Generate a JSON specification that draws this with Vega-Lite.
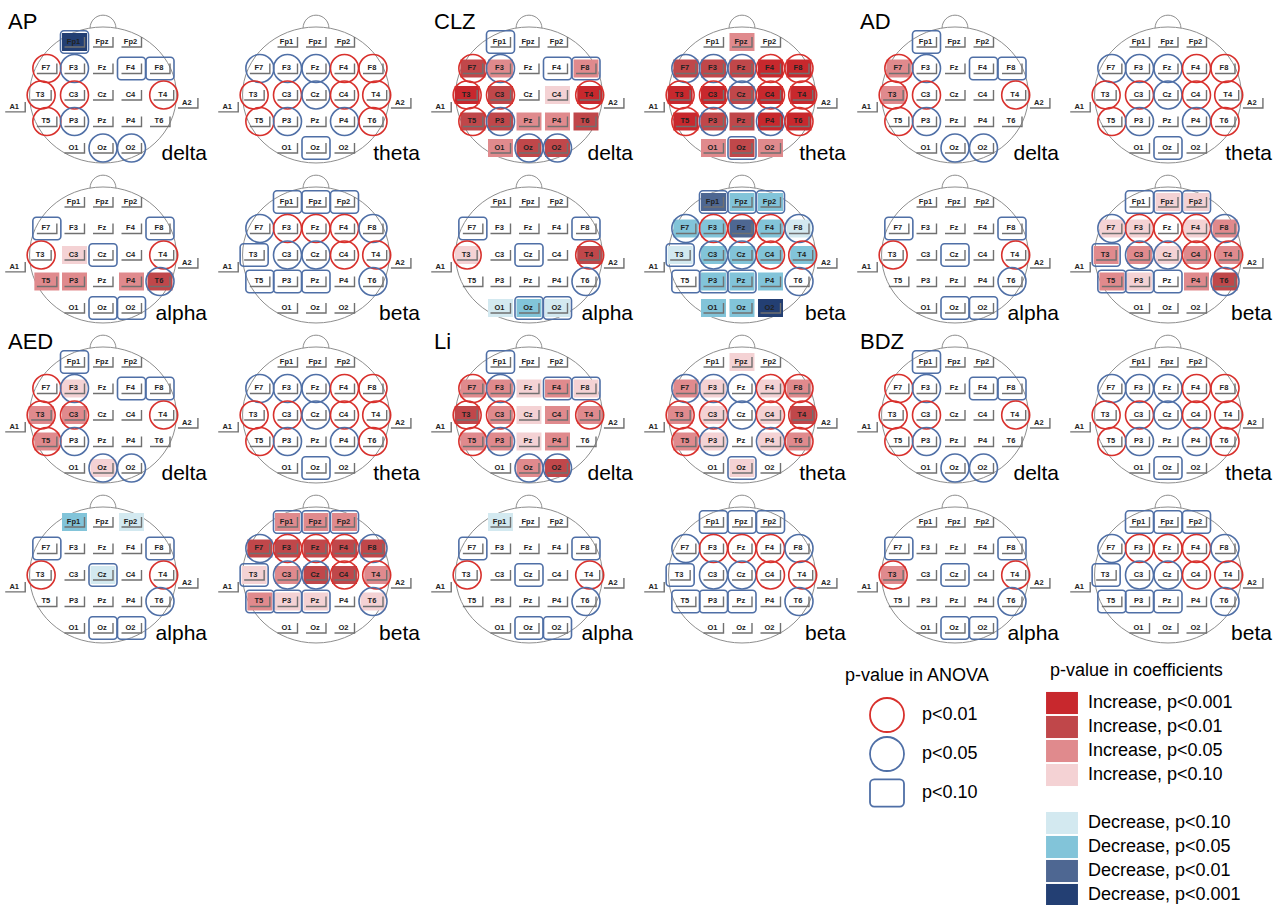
{
  "$schema": "https://vega.github.io/schema/vega-lite/v6.json",
  "padding": 0,
  "background": "white",
  "bounds": "flush",
  "datasets": {
    "montage": [
      {"e": "Fp1", "gx": -1, "gy": -2}, {"e": "Fpz", "gx": 0, "gy": -2}, {"e": "Fp2", "gx": 1, "gy": -2},
      {"e": "F7", "gx": -1.97, "gy": -1}, {"e": "F3", "gx": -1, "gy": -1}, {"e": "Fz", "gx": 0, "gy": -1}, {"e": "F4", "gx": 1, "gy": -1}, {"e": "F8", "gx": 2, "gy": -1},
      {"e": "A1", "gx": -3.08, "gy": 0.45}, {"e": "T3", "gx": -2.17, "gy": 0}, {"e": "C3", "gx": -1, "gy": 0}, {"e": "Cz", "gx": 0, "gy": 0}, {"e": "C4", "gx": 1, "gy": 0}, {"e": "T4", "gx": 2.13, "gy": 0}, {"e": "A2", "gx": 2.98, "gy": 0.3},
      {"e": "T5", "gx": -1.97, "gy": 1}, {"e": "P3", "gx": -1, "gy": 1}, {"e": "Pz", "gx": 0, "gy": 1}, {"e": "P4", "gx": 1, "gy": 1}, {"e": "T6", "gx": 2, "gy": 1},
      {"e": "O1", "gx": -1, "gy": 2}, {"e": "Oz", "gx": 0, "gy": 2}, {"e": "O2", "gx": 1, "gy": 2}
    ],
    "panels": [
      {"rg": "set1 delta-theta", "cg": "AP-AED slow", "drug": "AP", "band": "delta",
       "e": ["Fp1","Fpz","Fp2","F7","F3","Fz","F4","F8","A1","T3","C3","Cz","C4","T4","A2","T5","P3","Pz","P4","T6","O1","Oz","O2"],
       "a": ["q","","","r","b","","q","q","","r","r","","","r","","r","b","","","","","b","b"],
       "c": ["D3","","","","","","","","","","","","","","","","","","","","","",""]},
      {"rg": "set1 delta-theta", "cg": "AP-AED fast", "drug": "AP", "band": "theta",
       "e": ["Fp1","Fpz","Fp2","F7","F3","Fz","F4","F8","A1","T3","C3","Cz","C4","T4","A2","T5","P3","Pz","P4","T6","O1","Oz","O2"],
       "a": ["","","","b","b","b","r","r","","r","r","b","r","r","","r","b","","b","r","","q",""],
       "c": ["","","","","","","","","","","","","","","","","","","","","","",""]},
      {"rg": "set1 alpha-beta", "cg": "AP-AED slow", "drug": "AP", "band": "alpha",
       "e": ["Fp1","Fpz","Fp2","F7","F3","Fz","F4","F8","A1","T3","C3","Cz","C4","T4","A2","T5","P3","Pz","P4","T6","O1","Oz","O2"],
       "a": ["","","","q","","","","q","","r","","q","","r","","","","","","b","","q","q"],
       "c": ["","","","","","","","","","","I0","","","","","I1","I1","","I1","I2","","",""]},
      {"rg": "set1 alpha-beta", "cg": "AP-AED fast", "drug": "AP", "band": "beta",
       "e": ["Fp1","Fpz","Fp2","F7","F3","Fz","F4","F8","A1","T3","C3","Cz","C4","T4","A2","T5","P3","Pz","P4","T6","O1","Oz","O2"],
       "a": ["q","q","q","b","r","r","r","b","","q","b","b","r","r","","q","q","q","","b","","",""],
       "c": ["","","","","","","","","","","","","","","","","","","","","","",""]},
      {"rg": "set1 delta-theta", "cg": "CLZ-Li slow", "drug": "CLZ", "band": "delta",
       "e": ["Fp1","Fpz","Fp2","F7","F3","Fz","F4","F8","A1","T3","C3","Cz","C4","T4","A2","T5","P3","Pz","P4","T6","O1","Oz","O2"],
       "a": ["q","","","r","b","","q","q","","r","r","","","r","","r","b","","","","","b","b"],
       "c": ["","","","I2","I1","","","I1","","I3","I2","","I0","I3","","I2","I2","I1","I1","I2","I1","I2","I2"]},
      {"rg": "set1 delta-theta", "cg": "CLZ-Li fast", "drug": "CLZ", "band": "theta",
       "e": ["Fp1","Fpz","Fp2","F7","F3","Fz","F4","F8","A1","T3","C3","Cz","C4","T4","A2","T5","P3","Pz","P4","T6","O1","Oz","O2"],
       "a": ["","","","b","b","b","r","r","","r","r","b","r","r","","r","b","","b","r","","q",""],
       "c": ["","I1","","I2","I2","I2","I3","I3","","I3","I3","I2","I3","I3","","I3","I2","I2","I3","I3","I1","I2","I1"]},
      {"rg": "set1 alpha-beta", "cg": "CLZ-Li slow", "drug": "CLZ", "band": "alpha",
       "e": ["Fp1","Fpz","Fp2","F7","F3","Fz","F4","F8","A1","T3","C3","Cz","C4","T4","A2","T5","P3","Pz","P4","T6","O1","Oz","O2"],
       "a": ["","","","q","","","","q","","r","","q","","r","","","","","","b","","q","q"],
       "c": ["","","","","","","","","","I0","","","","I2","","","","","","","D0","D1","D0"]},
      {"rg": "set1 alpha-beta", "cg": "CLZ-Li fast", "drug": "CLZ", "band": "beta",
       "e": ["Fp1","Fpz","Fp2","F7","F3","Fz","F4","F8","A1","T3","C3","Cz","C4","T4","A2","T5","P3","Pz","P4","T6","O1","Oz","O2"],
       "a": ["q","q","q","b","r","r","r","b","","q","b","b","r","r","","q","q","q","","b","","",""],
       "c": ["D2","D1","D1","D1","D1","D2","D1","D0","","D0","D1","D1","D1","D1","","","D1","D1","D1","","D1","D1","D3"]},
      {"rg": "set1 delta-theta", "cg": "AD-BDZ slow", "drug": "AD", "band": "delta",
       "e": ["Fp1","Fpz","Fp2","F7","F3","Fz","F4","F8","A1","T3","C3","Cz","C4","T4","A2","T5","P3","Pz","P4","T6","O1","Oz","O2"],
       "a": ["q","","","r","b","","q","q","","r","r","","","r","","r","b","","","","","b","b"],
       "c": ["","","","I1","","","","","","I1","","","","","","","","","","","","",""]},
      {"rg": "set1 delta-theta", "cg": "AD-BDZ fast", "drug": "AD", "band": "theta",
       "e": ["Fp1","Fpz","Fp2","F7","F3","Fz","F4","F8","A1","T3","C3","Cz","C4","T4","A2","T5","P3","Pz","P4","T6","O1","Oz","O2"],
       "a": ["","","","b","b","b","r","r","","r","r","b","r","r","","r","b","","b","r","","q",""],
       "c": ["","","","","","","","","","","","","","","","","","","","","","",""]},
      {"rg": "set1 alpha-beta", "cg": "AD-BDZ slow", "drug": "AD", "band": "alpha",
       "e": ["Fp1","Fpz","Fp2","F7","F3","Fz","F4","F8","A1","T3","C3","Cz","C4","T4","A2","T5","P3","Pz","P4","T6","O1","Oz","O2"],
       "a": ["","","","q","","","","q","","r","","q","","r","","","","","","b","","q","q"],
       "c": ["","","","","","","","","","","","","","","","","","","","","","",""]},
      {"rg": "set1 alpha-beta", "cg": "AD-BDZ fast", "drug": "AD", "band": "beta",
       "e": ["Fp1","Fpz","Fp2","F7","F3","Fz","F4","F8","A1","T3","C3","Cz","C4","T4","A2","T5","P3","Pz","P4","T6","O1","Oz","O2"],
       "a": ["q","q","q","b","r","r","r","b","","q","b","b","r","r","","q","q","q","","b","","",""],
       "c": ["","I0","I0","I0","I0","","I0","I1","","I1","I1","I0","I1","I1","","I1","I0","","I1","I2","","",""]},
      {"rg": "set2 delta-theta", "cg": "AP-AED slow", "drug": "AED", "band": "delta",
       "e": ["Fp1","Fpz","Fp2","F7","F3","Fz","F4","F8","A1","T3","C3","Cz","C4","T4","A2","T5","P3","Pz","P4","T6","O1","Oz","O2"],
       "a": ["q","","","r","b","","q","q","","r","r","","","r","","r","b","","","","","b","b"],
       "c": ["","","","","I0","","","","","I1","I1","","","","","I1","","","","","","I0",""]},
      {"rg": "set2 delta-theta", "cg": "AP-AED fast", "drug": "AED", "band": "theta",
       "e": ["Fp1","Fpz","Fp2","F7","F3","Fz","F4","F8","A1","T3","C3","Cz","C4","T4","A2","T5","P3","Pz","P4","T6","O1","Oz","O2"],
       "a": ["","","","b","b","b","r","r","","r","r","b","r","r","","r","b","","b","r","","q",""],
       "c": ["","","","","","","","","","","","","","","","","","","","","","",""]},
      {"rg": "set2 alpha-beta", "cg": "AP-AED slow", "drug": "AED", "band": "alpha",
       "e": ["Fp1","Fpz","Fp2","F7","F3","Fz","F4","F8","A1","T3","C3","Cz","C4","T4","A2","T5","P3","Pz","P4","T6","O1","Oz","O2"],
       "a": ["","","","q","","","","q","","r","","q","","r","","","","","","b","","q","q"],
       "c": ["D1","","D0","","","","","","","","","D0","","","","","","","","","","",""]},
      {"rg": "set2 alpha-beta", "cg": "AP-AED fast", "drug": "AED", "band": "beta",
       "e": ["Fp1","Fpz","Fp2","F7","F3","Fz","F4","F8","A1","T3","C3","Cz","C4","T4","A2","T5","P3","Pz","P4","T6","O1","Oz","O2"],
       "a": ["q","q","q","b","r","r","r","b","","q","b","b","r","r","","q","q","q","","b","","",""],
       "c": ["I1","I1","I1","I2","I2","I2","I2","I2","","I0","I1","I2","I2","I1","","I1","I0","I0","","I0","","",""]},
      {"rg": "set2 delta-theta", "cg": "CLZ-Li slow", "drug": "Li", "band": "delta",
       "e": ["Fp1","Fpz","Fp2","F7","F3","Fz","F4","F8","A1","T3","C3","Cz","C4","T4","A2","T5","P3","Pz","P4","T6","O1","Oz","O2"],
       "a": ["q","","","r","b","","q","q","","r","r","","","r","","r","b","","","","","b","b"],
       "c": ["","","","I1","I1","I0","I1","I0","","I2","I1","I0","I1","I1","","I1","I1","I0","I1","","","I1","I2"]},
      {"rg": "set2 delta-theta", "cg": "CLZ-Li fast", "drug": "Li", "band": "theta",
       "e": ["Fp1","Fpz","Fp2","F7","F3","Fz","F4","F8","A1","T3","C3","Cz","C4","T4","A2","T5","P3","Pz","P4","T6","O1","Oz","O2"],
       "a": ["","","","b","b","b","r","r","","r","r","b","r","r","","r","b","","b","r","","q",""],
       "c": ["","I0","","I1","I0","","I0","I1","","I1","I0","","I0","I2","","I1","I0","","I0","I1","","I0",""]},
      {"rg": "set2 alpha-beta", "cg": "CLZ-Li slow", "drug": "Li", "band": "alpha",
       "e": ["Fp1","Fpz","Fp2","F7","F3","Fz","F4","F8","A1","T3","C3","Cz","C4","T4","A2","T5","P3","Pz","P4","T6","O1","Oz","O2"],
       "a": ["","","","q","","","","q","","r","","q","","r","","","","","","b","","q","q"],
       "c": ["D0","","","","","","","","","","","","","","","","","","","","","",""]},
      {"rg": "set2 alpha-beta", "cg": "CLZ-Li fast", "drug": "Li", "band": "beta",
       "e": ["Fp1","Fpz","Fp2","F7","F3","Fz","F4","F8","A1","T3","C3","Cz","C4","T4","A2","T5","P3","Pz","P4","T6","O1","Oz","O2"],
       "a": ["q","q","q","b","r","r","r","b","","q","b","b","r","r","","q","q","q","","b","","",""],
       "c": ["","","","","","","","","","","","","","","","","","","","","","",""]},
      {"rg": "set2 delta-theta", "cg": "AD-BDZ slow", "drug": "BDZ", "band": "delta",
       "e": ["Fp1","Fpz","Fp2","F7","F3","Fz","F4","F8","A1","T3","C3","Cz","C4","T4","A2","T5","P3","Pz","P4","T6","O1","Oz","O2"],
       "a": ["q","","","r","b","","q","q","","r","r","","","r","","r","b","","","","","b","b"],
       "c": ["","","","","","","","","","","","","","","","","","","","","","",""]},
      {"rg": "set2 delta-theta", "cg": "AD-BDZ fast", "drug": "BDZ", "band": "theta",
       "e": ["Fp1","Fpz","Fp2","F7","F3","Fz","F4","F8","A1","T3","C3","Cz","C4","T4","A2","T5","P3","Pz","P4","T6","O1","Oz","O2"],
       "a": ["","","","b","b","b","r","r","","r","r","b","r","r","","r","b","","b","r","","q",""],
       "c": ["","","","","","","","","","","","","","","","","","","","","","",""]},
      {"rg": "set2 alpha-beta", "cg": "AD-BDZ slow", "drug": "BDZ", "band": "alpha",
       "e": ["Fp1","Fpz","Fp2","F7","F3","Fz","F4","F8","A1","T3","C3","Cz","C4","T4","A2","T5","P3","Pz","P4","T6","O1","Oz","O2"],
       "a": ["","","","q","","","","q","","r","","q","","r","","","","","","b","","q","q"],
       "c": ["","","","","","","","","","I1","","","","","","","","","","","","",""]},
      {"rg": "set2 alpha-beta", "cg": "AD-BDZ fast", "drug": "BDZ", "band": "beta",
       "e": ["Fp1","Fpz","Fp2","F7","F3","Fz","F4","F8","A1","T3","C3","Cz","C4","T4","A2","T5","P3","Pz","P4","T6","O1","Oz","O2"],
       "a": ["q","q","q","b","r","r","r","b","","q","b","b","r","r","","q","q","q","","b","","",""],
       "c": ["","","","","","","","","","","","","","","","","","","","","","",""]}
    ]
  },
  "data": {"name": "panels"},
  "transform": [
    {"flatten": ["e", "a", "c"]},
    {"lookup": "e", "from": {"data": {"name": "montage"}, "key": "e", "fields": ["gx", "gy"]}}
  ],
  "facet": {
    "row": {"field": "rg", "type": "nominal", "sort": ["set1 delta-theta","set1 alpha-beta","set2 delta-theta","set2 alpha-beta"], "header": {"labels": false, "title": null}, "title": null},
    "column": {"field": "cg", "type": "nominal", "sort": ["AP-AED slow","AP-AED fast","CLZ-Li slow","CLZ-Li fast","AD-BDZ slow","AD-BDZ fast"], "header": {"labels": false, "title": null}, "title": null}
  },
  "spacing": {"row": 0, "column": 0},
  "spec": {
    "width": 213,
    "height": 160,
    "encoding": {
      "x": {"field": "gx", "type": "quantitative", "scale": {"domain": [-3.614, 3.86], "nice": false, "zero": false}, "axis": null},
      "y": {"field": "gy", "type": "quantitative", "scale": {"domain": [-3.585, 2.453], "nice": false, "zero": false, "reverse": true}, "axis": null}
    },
    "layer": [
      {
        "transform": [{"filter": "datum.e === 'Cz'"}],
        "mark": {"type": "point", "shape": "M -1.08 0 A 1.08 1 0 1 1 1.08 0 A 1.08 1 0 1 1 -1.08 0 Z M -0.19 -0.984 A 0.19 0.19 0 1 1 0.19 -0.984", "size": 18496, "filled": false, "color": "#8e8e8e", "strokeWidth": 1, "opacity": 1}
      },
      {
        "transform": [{"filter": "datum.c !== ''"}],
        "mark": {"type": "point", "shape": "M -1 -0.72 H 1 V 0.72 H -1 Z", "size": 625, "filled": true, "opacity": 1, "strokeWidth": 0},
        "encoding": {
          "fill": {
            "field": "c", "type": "nominal",
            "scale": {"domain": ["I3","I2","I1","I0","G","D0","D1","D2","D3"], "range": ["#c8282d","#c0474a","#e08a8d","#f4d2d4","rgba(255,255,255,0)","#d3e9f0","#82c4d9","#4e6792","#233f73"]},
            "legend": {
              "title": "p-value in coefficients", "orient": "none", "legendX": 1050, "legendY": 662, "direction": "vertical",
              "symbolType": "M -1.33 -0.92 H 1.33 V 0.92 H -1.33 Z", "symbolSize": 576, "symbolStrokeWidth": 0,
              "labelOffset": 14, "rowPadding": -0.6, "titlePadding": 11,
              "titleFontSize": 18, "titleFontWeight": "normal", "titleColor": "#000", "titleFont": "Liberation Sans",
              "labelFontSize": 18, "labelColor": "#000", "labelFont": "Liberation Sans", "labelLimit": 300,
              "labelExpr": "datum.value === 'I3' ? 'Increase, p<0.001' : datum.value === 'I2' ? 'Increase, p<0.01' : datum.value === 'I1' ? 'Increase, p<0.05' : datum.value === 'I0' ? 'Increase, p<0.10' : datum.value === 'D0' ? 'Decrease, p<0.10' : datum.value === 'D1' ? 'Decrease, p<0.05' : datum.value === 'D2' ? 'Decrease, p<0.01' : datum.value === 'D3' ? 'Decrease, p<0.001' : ''"
            }
          }
        }
      },
      {
        "mark": {"type": "point", "shape": "M -1 0.5 H 1 V -0.5", "size": 400, "filled": false, "color": "#707070", "strokeWidth": 1.4, "opacity": 1}
      },
      {
        "mark": {"type": "text", "fontSize": 7.5, "fontWeight": "bold", "color": "#222222", "dx": -1, "font": "Liberation Sans"},
        "encoding": {"text": {"field": "e", "type": "nominal"}}
      },
      {
        "transform": [{"filter": "datum.a !== ''"}],
        "mark": {"type": "point", "size": 784, "filled": false, "strokeWidth": 1.6, "opacity": 1},
        "encoding": {
          "shape": {
            "field": "a", "type": "nominal",
            "scale": {"domain": ["r","b","q"], "range": ["circle","circle","M -0.75 -0.8 H 0.75 A 0.25 0.25 0 0 1 1 -0.55 V 0.55 A 0.25 0.25 0 0 1 0.75 0.8 H -0.75 A 0.25 0.25 0 0 1 -1 0.55 V -0.55 A 0.25 0.25 0 0 1 -0.75 -0.8 Z"]},
            "legend": {
              "title": "p-value in ANOVA", "orient": "none", "legendX": 845, "legendY": 667, "direction": "vertical",
              "symbolSize": 1156, "symbolOffset": 24, "symbolStrokeWidth": 1.8, "symbolFillColor": "rgba(0,0,0,0)",
              "labelOffset": 17, "rowPadding": -7, "titlePadding": 12,
              "titleFontSize": 18, "titleFontWeight": "normal", "titleColor": "#000", "titleFont": "Liberation Sans",
              "labelFontSize": 18, "labelColor": "#000", "labelFont": "Liberation Sans",
              "labelExpr": "datum.value === 'r' ? 'p<0.01' : datum.value === 'b' ? 'p<0.05' : 'p<0.10'"
            }
          },
          "stroke": {
            "field": "a", "type": "nominal",
            "scale": {"domain": ["r","b","q"], "range": ["#d8302c","#4f6fa6","#4f6fa6"]},
            "legend": {
              "title": "p-value in ANOVA", "orient": "none", "legendX": 845, "legendY": 667, "direction": "vertical",
              "symbolSize": 1156, "symbolOffset": 24, "symbolStrokeWidth": 1.8, "symbolFillColor": "rgba(0,0,0,0)",
              "labelOffset": 17, "rowPadding": -7, "titlePadding": 12,
              "titleFontSize": 18, "titleFontWeight": "normal", "titleColor": "#000", "titleFont": "Liberation Sans",
              "labelFontSize": 18, "labelColor": "#000", "labelFont": "Liberation Sans",
              "labelExpr": "datum.value === 'r' ? 'p<0.01' : datum.value === 'b' ? 'p<0.05' : 'p<0.10'"
            }
          }
        }
      },
      {
        "transform": [{"filter": "datum.e === 'Cz' && datum.band === 'delta'"}],
        "mark": {"type": "text", "fontSize": 22, "align": "left", "baseline": "alphabetic", "dx": -95, "dy": -66, "color": "#000", "font": "Liberation Sans"},
        "encoding": {"text": {"field": "drug", "type": "nominal"}}
      },
      {
        "transform": [{"filter": "datum.e === 'Cz'"}],
        "mark": {"type": "text", "fontSize": 21, "align": "right", "baseline": "alphabetic", "dx": 104, "dy": 65, "color": "#000", "font": "Liberation Sans"},
        "encoding": {"text": {"field": "band", "type": "nominal"}}
      }
    ]
  },
  "config": {
    "view": {"stroke": null},
    "font": "Liberation Sans"
  }
}
